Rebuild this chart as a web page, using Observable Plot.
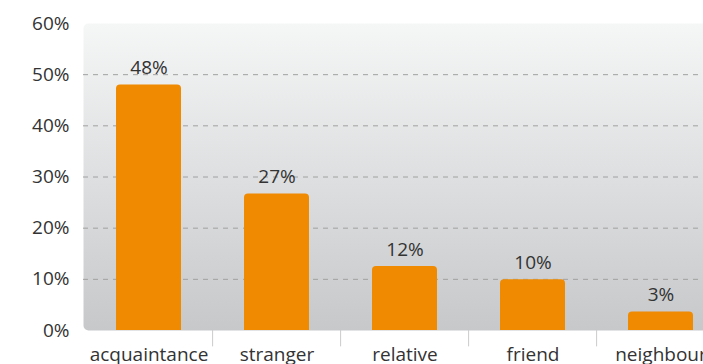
<!DOCTYPE html>
<html><head><meta charset="utf-8">
<script src="https://cdn.jsdelivr.net/npm/d3@7"></script>
<script src="https://cdn.jsdelivr.net/npm/@observablehq/plot@0.6"></script>
<style>html,body{margin:0;padding:0;overflow:hidden;background:#fff;}</style>
</head><body><div id="chart"></div>
<script>
const categories = ["acquaintance", "stranger", "relative", "friend", "neighbour"];
const values = [48, 26.7, 12.5, 9.9, 3.6];
const valueLabels = ["48%", "27%", "12%", "10%", "3%"];
const yTicks = [0, 10, 20, 30, 40, 50, 60];
const gridTicks = [10, 20, 30, 40, 50];

const data = categories.map((c, i) => ({category: c, value: values[i], label: valueLabels[i]}));
const W = 727, H = 364, ML = 83, MT = 23, MB = 34;
const step = (W - ML) / categories.length;

const chart = Plot.plot({
  width: W, height: H,
  marginLeft: ML, marginRight: 0, marginTop: MT, marginBottom: MB,
  style: {fontFamily: "'Open Sans', sans-serif", fontSize: "19px", color: "#333", overflow: "visible", maxWidth: "none", background: "transparent"},
  x: {domain: categories, paddingInner: 0.49, paddingOuter: 0.245, axis: null},
  y: {domain: [0, 60], axis: null},
  marks: [
    Plot.frame({fill: "url(#bgGrad)", stroke: "none", rx: 5}),
    Plot.ruleY(gridTicks, {stroke: "#a0a0a0", strokeDasharray: "5,5", strokeWidth: 1}),
    Plot.barY(data, {x: "category", y: "value", fill: "#f08a00", rx: 4, insetBottom: -6, clip: "frame"}),
    Plot.text(data, {x: "category", y: "value", text: "label", dy: -17, fill: "#333", fontSize: 19}),
    Plot.ruleX(categories.slice(1), {x: d => d, dx: -step / 2, y1: 0, y2: -3.2, stroke: "#cccccc"}),
    Plot.axisY(yTicks, {tickSize: 0, tickPadding: 14, tickFormat: d => d + "%", fontSize: 19, label: null}),
    Plot.axisX({tickSize: 0, tickPadding: 17, fontSize: 19, label: null})
  ]
});

d3.select(chart).insert("defs", ":first-child").html(
  '<linearGradient id="bgGrad" x1="0" y1="0" x2="0" y2="1">' +
  '<stop offset="0" stop-color="#f5f6f6"/><stop offset="1" stop-color="#c6c8ca"/></linearGradient>'
);
document.getElementById("chart").appendChild(chart);
</script>
</body></html>
